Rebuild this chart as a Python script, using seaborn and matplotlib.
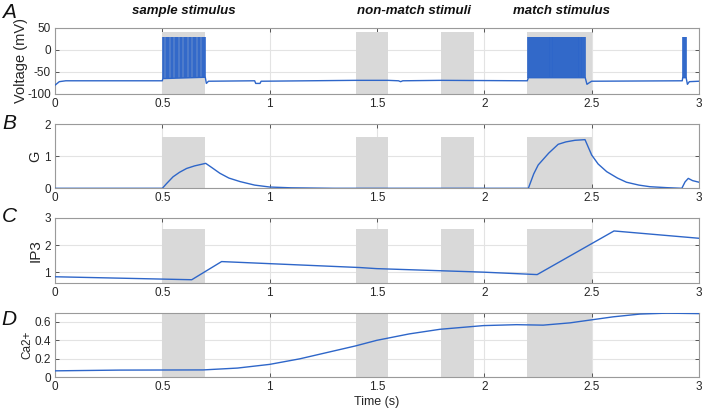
import numpy as np
import pandas as pd
import matplotlib
matplotlib.use("Agg")
import matplotlib.pyplot as plt
import seaborn as sns

# stimulus windows (s)
stim_start = [0.5, 1.4, 1.8, 2.2]
stim_end = [0.7, 1.55, 1.95, 2.5]
stim_names = ["sample stimulus", "non-match stimuli", "match stimulus"]
stim_name_x = [0.6, 1.67, 2.36]

# voltage baseline (mV)
v_time = [0, 0.005, 0.02, 0.05, 0.5, 0.502, 0.7, 0.705, 0.715, 0.93, 0.935, 0.955, 0.96,
          1.4, 1.55, 1.6, 1.61, 1.62, 1.8, 2.2, 2.205, 2.47, 2.478, 2.49, 2.5, 2.922,
          2.924, 2.94, 2.946, 2.955, 3.0]
v_mv = [-80, -78, -72, -70, -70, -65, -62, -76, -71, -70, -76, -76, -71,
        -69, -69, -70, -72, -70, -69, -70, -63, -63, -78, -74, -71, -70,
        -63, -63, -78, -72, -71]
spike_peak = 30
spike_trough = -63
sample_spikes = [0.503, 0.509, 0.515, 0.521, 0.527, 0.533, 0.539, 0.545, 0.551, 0.557,
                 0.563, 0.569, 0.575, 0.581, 0.587, 0.593, 0.599, 0.605, 0.611, 0.617,
                 0.623, 0.629, 0.635, 0.641, 0.647, 0.653, 0.659, 0.665, 0.671, 0.677,
                 0.683, 0.689, 0.695, 0.700]
match_spikes = [2.205, 2.209, 2.214, 2.218, 2.223, 2.227, 2.232, 2.236, 2.241, 2.245,
                2.250, 2.254, 2.259, 2.263, 2.268, 2.272, 2.277, 2.281, 2.286, 2.290,
                2.295, 2.299, 2.304, 2.308, 2.313, 2.317, 2.322, 2.326, 2.331, 2.335,
                2.340, 2.344, 2.349, 2.353, 2.358, 2.362, 2.367, 2.371, 2.376, 2.380,
                2.385, 2.389, 2.394, 2.398, 2.403, 2.407, 2.412, 2.416, 2.421, 2.425,
                2.430, 2.434, 2.439, 2.443, 2.448, 2.452, 2.457, 2.461, 2.466, 2.470]
end_spikes = [2.924, 2.929, 2.934, 2.939]

# G
g_time = [0, 0.5, 0.52, 0.55, 0.58, 0.613, 0.65, 0.702, 0.73, 0.768, 0.81, 0.862, 0.93, 1.0,
          1.1, 1.3, 2.2, 2.205, 2.23, 2.251, 2.3, 2.344, 2.38, 2.422, 2.469, 2.5, 2.53,
          2.57, 2.62, 2.662, 2.72, 2.771, 2.85, 2.92, 2.935, 2.95, 2.97, 3.0]
g_val = [0, 0, 0.15, 0.36, 0.5, 0.62, 0.7, 0.78, 0.65, 0.47, 0.32, 0.21, 0.1, 0.04,
         0.015, 0, 0, 0, 0.45, 0.73, 1.1, 1.375, 1.45, 1.5, 1.52, 1.04, 0.76,
         0.52, 0.32, 0.19, 0.1, 0.05, 0.02, 0, 0.2, 0.31, 0.24, 0.19]

# IP3
ip3_time = [0, 0.637, 0.776, 1.42, 1.498, 1.995, 2.246, 2.604, 3.0]
ip3_val = [0.83, 0.72, 1.39, 1.17, 1.13, 1.0, 0.91, 2.52, 2.25]

# Ca2+
ca_time = [0, 0.3, 0.69, 0.85, 1.0, 1.14, 1.27, 1.4, 1.498, 1.65, 1.793, 1.995, 2.15,
           2.274, 2.4, 2.492, 2.6, 2.725, 2.85, 3.0]
ca_val = [0.07, 0.078, 0.08, 0.1, 0.14, 0.2, 0.27, 0.34, 0.40, 0.47, 0.52, 0.56, 0.57,
          0.565, 0.59, 0.62, 0.655, 0.685, 0.695, 0.69]

line_color = "#2e66c9"
patch_color = "#d9d9d9"

sns.set_theme(style="ticks")
plt.rcParams["font.family"] = ["Liberation Sans", "DejaVu Sans"]

fig = plt.figure(figsize=(7.08, 4.09), dpi=100)
left, width = 0.0777, 0.9096
ax_a = fig.add_axes([left, 0.7702, width, 0.1614])
ax_b = fig.add_axes([left, 0.5396, width, 0.1565])
ax_c = fig.add_axes([left, 0.3081, width, 0.159])
ax_d = fig.add_axes([left, 0.0775, width, 0.158])

# axes, letter, ylabel, ylim, yticks, grey band, label size, label x, letter y
panels = [
    (ax_a, "A", "Voltage (mV)", (-100, 50), [-100, -50, 0, 50], (-100, 40), 10.5, 0.042, 1.23),
    (ax_b, "B", "G", (0, 2), [0, 1, 2], (0, 1.6), 10.5, 0.02, 1.02),
    (ax_c, "C", "IP3", (0.6, 3), [1, 2, 3], (0.6, 2.6), 11, 0.02, 1.02),
    (ax_d, "D", "Ca2+", (0, 0.7), [0, 0.2, 0.4, 0.6], (0, 0.7), 8.5, 0.034, 0.89),
]

xticks = [0, 0.5, 1, 1.5, 2, 2.5, 3]
xticklabels = ["0", "0.5", "1", "1.5", "2", "2.5", "3"]

for ax, letter, ylab, ylim, yticks, band, lsize, lx, ly in panels:
    for s, e in zip(stim_start, stim_end):
        ax.fill_between([s, e], band[0], band[1], color=patch_color, lw=0, zorder=1)
    ax.set_xlim(0, 3)
    ax.set_ylim(*ylim)
    ax.set_xticks(xticks)
    ax.set_xticklabels(xticklabels)
    ax.set_yticks(yticks)
    ax.set_yticklabels([f"{t:g}" for t in yticks])
    ax.grid(True, color="#e3e3e3", lw=0.8, zorder=0)
    ax.set_axisbelow(True)
    ax.tick_params(direction="in", length=3, width=0.7, colors="#555555",
                   labelcolor="#262626", labelsize=8.5, top=True, right=True, pad=3)
    for sp in ax.spines.values():
        sp.set_color("#9a9a9a")
        sp.set_linewidth(0.8)
    ax.set_ylabel(ylab, fontsize=lsize, color="#262626")
    ax.yaxis.set_label_coords(-lx, 0.5)
    ax.text(-0.071, ly, letter, transform=ax.transAxes, fontsize=15,
            fontstyle="italic", ha="center", va="center", color="#111111")

# A: membrane voltage
sns.lineplot(x=v_time, y=v_mv, ax=ax_a, color=line_color, lw=1.0, sort=False,
             estimator=None, zorder=3)
ax_a.vlines(sample_spikes, spike_trough, spike_peak, color=line_color, lw=1.3,
            alpha=0.9, zorder=3)
ax_a.vlines(match_spikes + end_spikes, spike_trough, spike_peak, color=line_color,
            lw=1.2, zorder=3)
ax_a.set_xlabel("")
for name, x in zip(stim_names, stim_name_x):
    ax_a.text(x, 1.26, name, transform=ax_a.get_xaxis_transform(), ha="center",
              va="center", fontsize=9.5, fontweight="bold", fontstyle="italic",
              color="#111111")

sns.lineplot(x=g_time, y=g_val, ax=ax_b, color=line_color, lw=1.0, sort=False,
             estimator=None, zorder=3)
sns.lineplot(x=ip3_time, y=ip3_val, ax=ax_c, color=line_color, lw=1.0, sort=False,
             estimator=None, zorder=3)
sns.lineplot(x=ca_time, y=ca_val, ax=ax_d, color=line_color, lw=1.0, sort=False,
             estimator=None, zorder=3)
ax_d.set_xlabel("Time (s)", fontsize=9, color="#262626", labelpad=2)

fig.savefig("out.png", dpi=100)
